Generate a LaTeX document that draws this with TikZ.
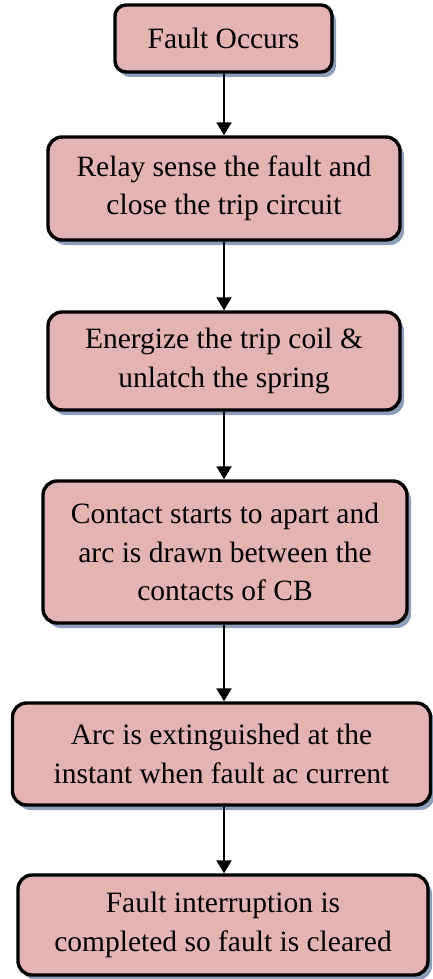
\documentclass[tikz,border=0pt]{standalone}
\usepackage{fontspec}
\setmainfont{Liberation Serif}
\usetikzlibrary{arrows.meta,shadows}
\definecolor{boxfill}{RGB}{228,180,180}
\definecolor{shadowcol}{RGB}{140,158,186}
\tikzset{
  stepbox/.style={draw=black, line width=3.4pt, fill=boxfill, rounded corners=14pt,
    align=center, inner sep=0pt,
    font=\fontsize{29.5}{38.5}\selectfont,
    drop shadow={shadow xshift=4pt, shadow yshift=-5pt, fill=shadowcol, opacity=1}},
  flow/.style={line width=2pt, -{Triangle[length=13pt,width=15pt]}}
}
\begin{document}
\begin{tikzpicture}[x=1pt,y=-1pt]
\useasboundingbox (0,0) rectangle (432,979);
\node[stepbox, minimum width=217pt, minimum height=67pt, rounded corners=11pt] (b1) at (223.5,38.5) {Fault Occurs};
\node[stepbox, minimum width=352pt, minimum height=103pt] (b2) at (224,188.5) {Relay sense the fault and\\close the trip circuit};
\node[stepbox, minimum width=352pt, minimum height=98pt] (b3) at (224,361) {Energize the trip coil \&\\unlatch the spring};
\node[stepbox, minimum width=364pt, minimum height=142pt] (b4) at (225,552) {Contact starts to apart and\\arc is drawn between the\\contacts of CB};
\node[stepbox, minimum width=418pt, minimum height=102pt] (b5) at (221.5,754) {Arc is extinguished at the\\instant when fault ac current};
\node[stepbox, minimum width=410pt, minimum height=100pt] (b6) at (223,925) {Fault interruption is\\completed so fault is cleared};
\coordinate (x) at (224,0);
\draw[flow] (b1.south -| x) -- (b2.north -| x);
\draw[flow] (b2.south -| x) -- (b3.north -| x);
\draw[flow] (b3.south -| x) -- (b4.north -| x);
\draw[flow] (b4.south -| x) -- (b5.north -| x);
\draw[flow] (b5.south -| x) -- (b6.north -| x);
\end{tikzpicture}
\end{document}
